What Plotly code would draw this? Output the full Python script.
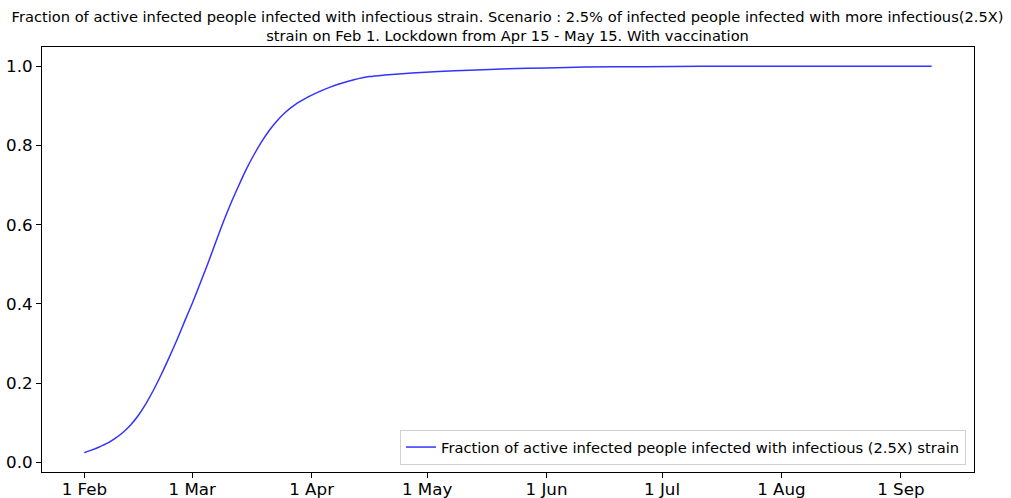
import datetime as dt
import plotly.graph_objects as go

# Days after 1 Feb 2021 and the fraction of active infected people with the infectious strain
days = [0, 2, 4, 6, 8, 10, 12, 14, 16, 18, 20, 22, 24, 26, 28, 30, 32, 34, 36, 38,
        40, 42, 44, 46, 48, 50, 52, 55, 58, 61, 64, 67, 70, 74, 78, 85, 92, 100,
        110, 120, 130, 145, 160, 180, 200, 220]
fraction = [0.024, 0.031, 0.039, 0.048, 0.060, 0.075, 0.094, 0.118, 0.148, 0.183,
            0.222, 0.264, 0.308, 0.355, 0.401, 0.450, 0.500, 0.553, 0.605, 0.653,
            0.697, 0.739, 0.776, 0.809, 0.838, 0.862, 0.882, 0.905, 0.922, 0.936,
            0.948, 0.958, 0.966, 0.974, 0.978, 0.983, 0.987, 0.990, 0.994, 0.996,
            0.998, 0.999, 1.000, 1.000, 1.000, 1.000]
tick_labels = ["1 Feb", "1 Mar", "1 Apr", "1 May", "1 Jun", "1 Jul", "1 Aug", "1 Sep"]
tick_months = [2, 3, 4, 5, 6, 7, 8, 9]
y_ticks = [0.0, 0.2, 0.4, 0.6, 0.8, 1.0]

start = dt.datetime(2021, 2, 1)
dates = [start + dt.timedelta(days=d) for d in days]
tick_vals = [dt.datetime(2021, m, 1) for m in tick_months]

span = days[-1] - days[0]
x_lo = start + dt.timedelta(days=days[0] - 0.05 * span)
x_hi = start + dt.timedelta(days=days[-1] + 0.05 * span)
ymin, ymax = min(fraction), max(fraction)
yr = ymax - ymin

FONT = "DejaVu Sans"

fig = go.Figure()
fig.add_trace(go.Scatter(
    x=dates, y=fraction, mode="lines",
    line=dict(color="rgba(0,0,255,0.8)", width=1.5, shape="spline", smoothing=0.8),
    name="Fraction of active infected people infected with infectious (2.5X) strain",
    showlegend=True,
))

axis_common = dict(
    showline=True, linecolor="black", linewidth=1, mirror=True,
    ticks="outside", ticklen=5, tickcolor="black", tickwidth=1,
    showgrid=False, zeroline=False, automargin=False,
    tickfont=dict(family=FONT, size=16.7, color="black"),
)

fig.update_layout(
    width=1011, height=498,
    margin=dict(l=42, r=37, t=47, b=26, autoexpand=False),
    paper_bgcolor="white", plot_bgcolor="white",
    font=dict(family=FONT, color="black"),
    title=dict(
        text="Fraction of active infected people infected with infectious strain. Scenario : 2.5% of infected people infected with more infectious(2.5X)<br>strain on Feb 1. Lockdown from Apr 15 - May 15. With vaccination",
        x=0.502, xanchor="center", xref="container",
        y=1 - 22 / 498, yanchor="top",
        font=dict(family=FONT, size=14.65, color="black"),
        automargin=False,
    ),
    xaxis=dict(range=[x_lo, x_hi], tickvals=tick_vals, ticktext=tick_labels,
               ticklabelstandoff=-3, **axis_common),
    yaxis=dict(range=[ymin - 0.05 * yr, ymax + 0.05 * yr], tickvals=y_ticks,
               tickformat=".1f", **axis_common),
    legend=dict(
        x=1 - 8 / 932, y=7 / 425, xanchor="right", yanchor="bottom",
        bgcolor="white", bordercolor="#d0d0d0", borderwidth=1,
        font=dict(family=FONT, size=14.7, color="black"),
    ),
)

fig.write_html("out.html", config={"displayModeBar": False},
               post_script="document.body.style.margin='0';document.body.style.padding='0';")
